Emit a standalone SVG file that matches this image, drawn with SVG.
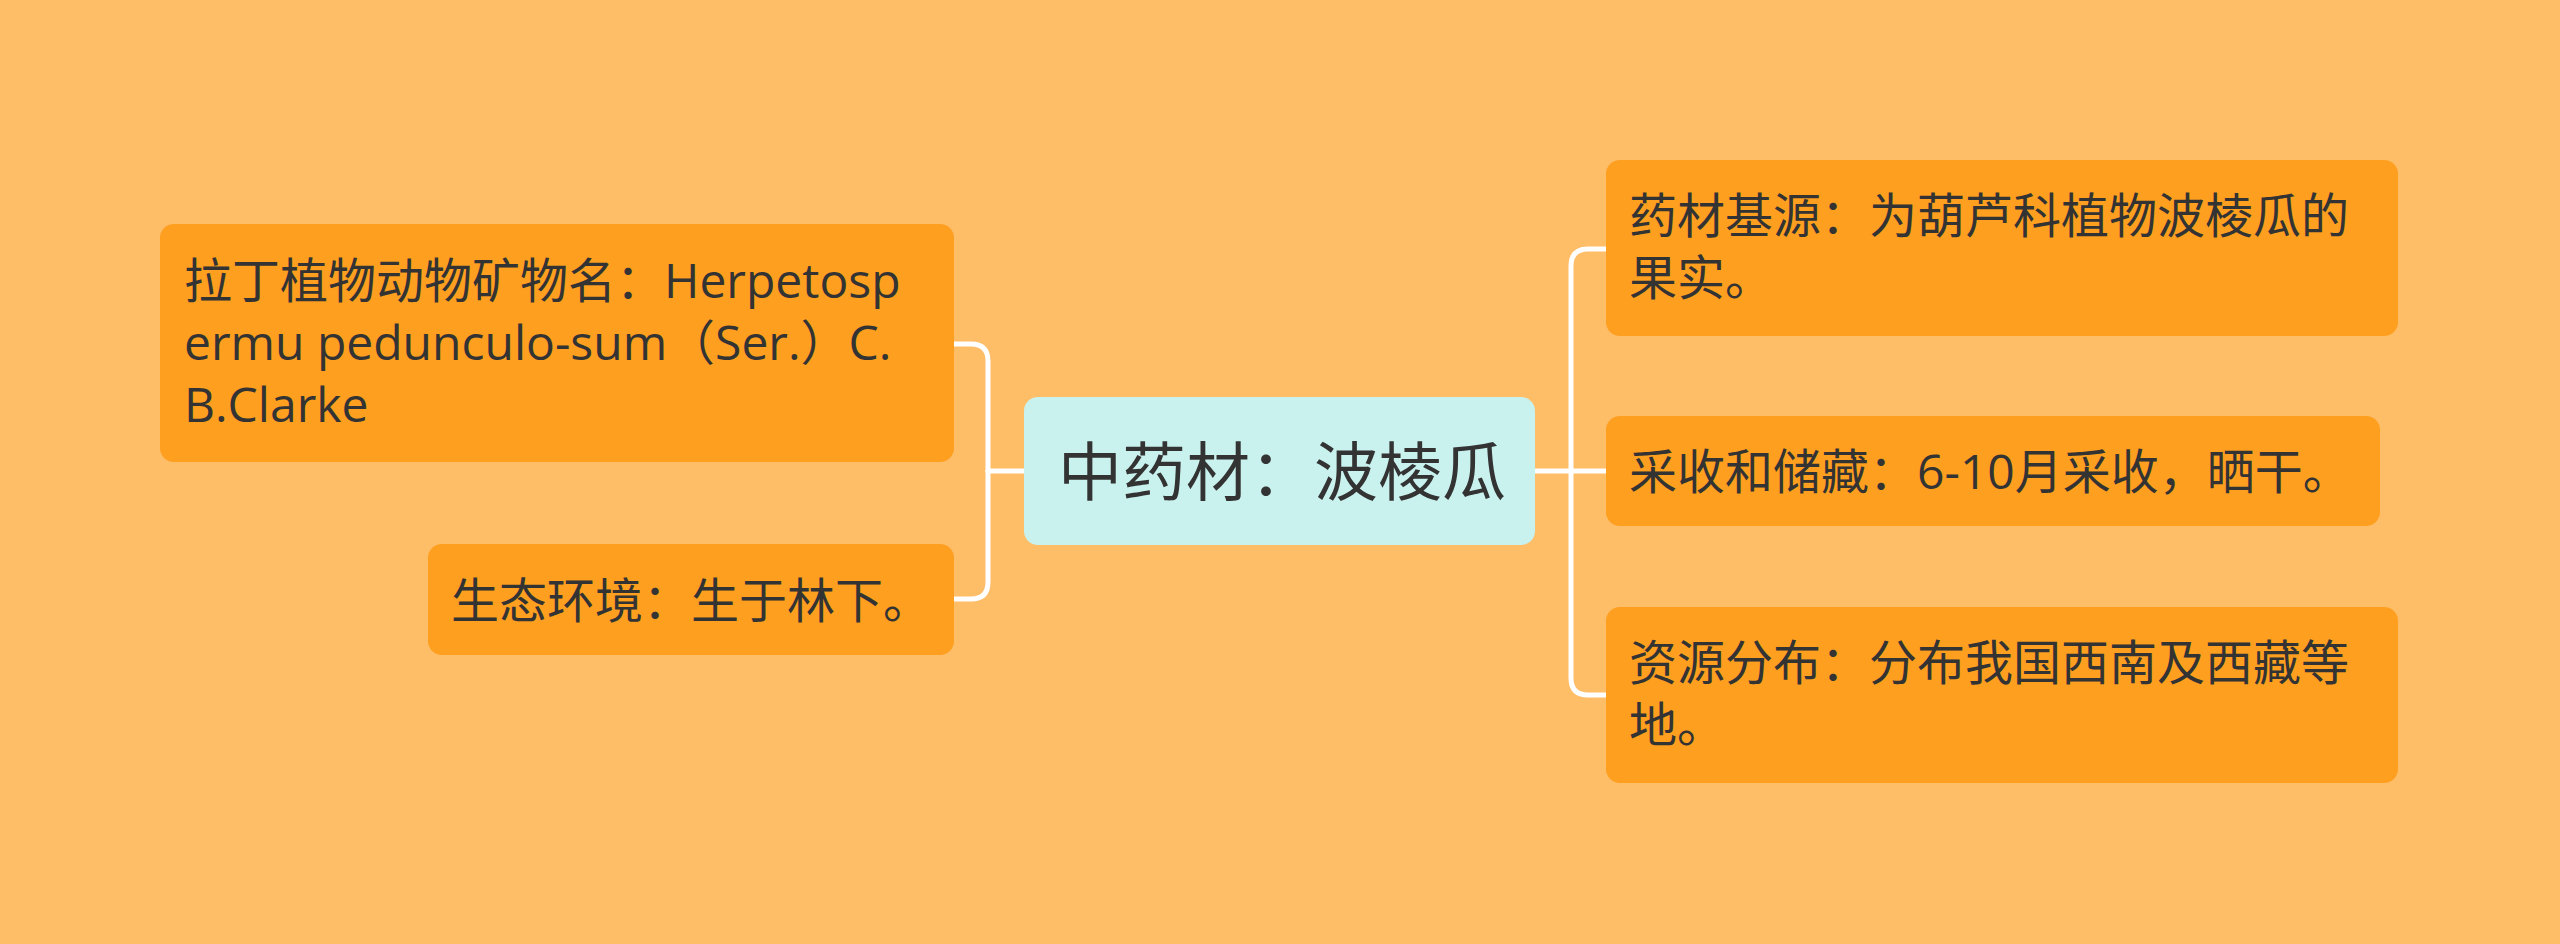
<svg xmlns="http://www.w3.org/2000/svg" width="2560" height="944" viewBox="0 0 2560 944">
<style>
.bg{fill:#FEBD67}
.node{fill:#FE9F1F}
.root{fill:#C9F2EF}
.t{font-family:"Open Sans","Noto Sans CJK SC",sans-serif;font-size:48px;fill:#333333}
.rt{font-family:"Open Sans","Noto Sans CJK SC",sans-serif;font-size:64px;fill:#333333}
.ln{fill:none;stroke:#FFFFFF;stroke-width:5;stroke-linecap:round}
</style>
<rect class="bg" x="0" y="0" width="2560" height="944"/>
<g id="connectors">
<path class="ln" d="M1024 471 L988 471"/>
<path class="ln" d="M988 471 L988 361 Q988 344 971 344 L953 344"/>
<path class="ln" d="M988 471 L988 582 Q988 599 971 599 L953 599"/>
<path class="ln" d="M1535 471 L1607 471"/>
<path class="ln" d="M1571 471 L1571 266 Q1571 249 1588 249 L1607 249"/>
<path class="ln" d="M1571 471 L1571 678 Q1571 695 1588 695 L1607 695"/>
</g>
<g id="root">
<rect class="root" x="1024" y="397" width="511" height="148" rx="14"/>
<text class="rt" x="1058" y="495">中药材：波棱瓜</text>
</g>
<g id="n-latin">
<rect class="node" x="160" y="224" width="794" height="238" rx="14"/>
<text class="t" x="184" y="298">拉丁植物动物矿物名：Herpetosp</text>
<text class="t" x="184" y="360">ermu pedunculo-sum（Ser.）C.</text>
<text class="t" x="184" y="422">B.Clarke</text>
</g>
<g id="n-eco">
<rect class="node" x="428" y="544" width="526" height="111" rx="14"/>
<text class="t" x="451" y="618">生态环境：生于林下。</text>
</g>
<g id="n-source">
<rect class="node" x="1606" y="160" width="792" height="176" rx="14"/>
<text class="t" x="1629" y="233">药材基源：为葫芦科植物波棱瓜的</text>
<text class="t" x="1629" y="295">果实。</text>
</g>
<g id="n-harvest">
<rect class="node" x="1606" y="416" width="774" height="110" rx="14"/>
<text class="t" x="1629" y="489">采收和储藏：6-10月采收，晒干。</text>
</g>
<g id="n-dist">
<rect class="node" x="1606" y="607" width="792" height="176" rx="14"/>
<text class="t" x="1629" y="680">资源分布：分布我国西南及西藏等</text>
<text class="t" x="1629" y="742">地。</text>
</g>
</svg>
